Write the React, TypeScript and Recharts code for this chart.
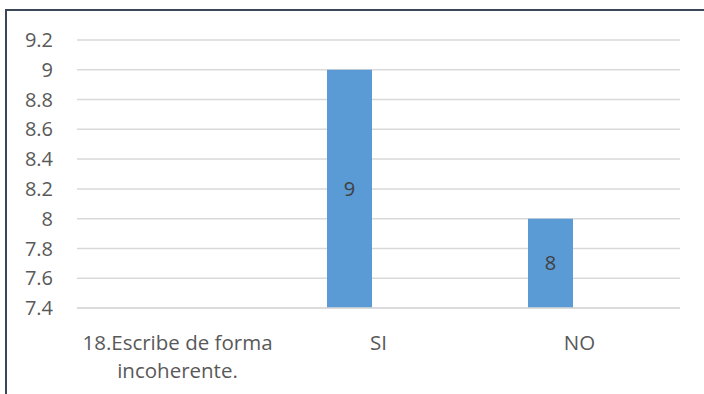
import React from "react";
import { BarChart, Bar, XAxis, YAxis, CartesianGrid, LabelList } from "recharts";

const categories = ["18.Escribe de forma incoherente.", "SI", "NO"];
const seriesMain: (number | null)[] = [null, 9, 8];
const seriesEmpty: (number | null)[] = [null, null, null];
const yTicks = [7.4, 7.6, 7.8, 8, 8.2, 8.4, 8.6, 8.8, 9, 9.2];

const data = categories.map((name, i) => ({ name, a: seriesMain[i], b: seriesEmpty[i] }));

const FONT = "'Open Sans', sans-serif";
const TEXT = "#595959";

function wrap(s: string, max: number): string[] {
  const words = s.split(" ");
  const lines: string[] = [];
  let cur = "";
  for (const w of words) {
    const t = cur ? cur + " " + w : w;
    if (t.length > max && cur) {
      lines.push(cur);
      cur = w;
    } else cur = t;
  }
  if (cur) lines.push(cur);
  return lines;
}

const XTick = (props: any) => {
  const { x, y, payload } = props;
  const lines = wrap(String(payload.value), 20);
  return (
    <text x={x} y={y} textAnchor="middle" fill={TEXT} fontSize={20.5} fontFamily={FONT}>
      {lines.map((l, i) => (
        <tspan key={i} x={x} dy={i === 0 ? 34 : 28}>
          {l}
        </tspan>
      ))}
    </text>
  );
};

export default function App() {
  return (
    <div style={{ position: "fixed", left: 0, top: 0, width: 704, height: 394, background: "#fff", overflow: "hidden" }}>
      <div
        style={{
          position: "absolute",
          left: 5,
          top: 9,
          width: 760,
          height: 460,
          border: "2px solid #3b4759",
          boxSizing: "border-box",
        }}
      />
      <div style={{ position: "absolute", left: 0, top: 0 }}>
        <BarChart
          width={704}
          height={394}
          data={data}
          margin={{ top: 40, right: 24, left: 0, bottom: 30 }}
          barGap={13}
          barSize={45}
        >
          <CartesianGrid vertical={false} stroke="#d9d9d9" strokeWidth={1.5} />
          <XAxis
            dataKey="name"
            height={56}
            tickLine={false}
            axisLine={{ stroke: "#d9d9d9", strokeWidth: 1.5 }}
            tick={<XTick />}
            interval={0}
          />
          <YAxis
            width={77}
            domain={[7.4, 9.2]}
            ticks={yTicks}
            tickLine={false}
            axisLine={false}
            tickSize={0}
            tickMargin={24}
            tick={{ fill: TEXT, fontSize: 20, fontFamily: FONT }}
          />
          <Bar dataKey="a" fill="#5b9bd5" isAnimationActive={false}>
            <LabelList dataKey="a" position="center" fill="#404040" fontSize={20} fontFamily={FONT} />
          </Bar>
          <Bar dataKey="b" fill="#ed7d31" isAnimationActive={false} />
        </BarChart>
      </div>
    </div>
  );
}
